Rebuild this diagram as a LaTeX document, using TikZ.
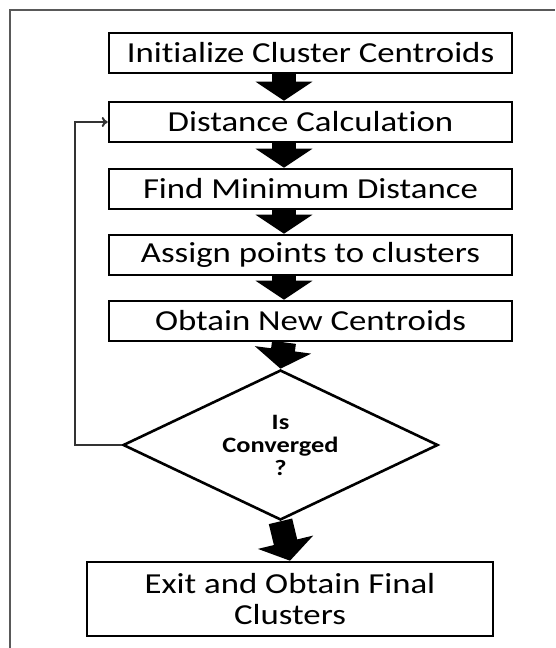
\documentclass[tikz,border=0pt]{standalone}
\usepackage{fontspec}
\setmainfont{Carlito}[FakeStretch=1.2, Ligatures=NoCommon]
\usepackage{xcolor}
\usepackage{tikz}
\usetikzlibrary{arrows.meta,shapes.geometric,positioning,calc}

\begin{document}
\begin{tikzpicture}[x=1pt,y=-1pt,
		stepbox/.style={draw, line width=2.6pt, minimum width=403pt, minimum height=40pt, inner sep=2pt, font=\fontsize{29}{31}\selectfont},
		blockarrow/.style={line width=24pt, -{Triangle[width=56pt,length=19pt]}},
		backarrow/.style={line width=2pt, black!80, -{To[length=6pt,width=10pt]}}]
		\useasboundingbox (0,0) rectangle (555,648);
		\draw[black!65, line width=1.5pt] (10,648) -- (10,10) -- (555,10);

		\node[stepbox] (init) at (310.5,53) {Initialize Cluster Centroids};
		\node[stepbox] (dist) at (310.5,122) {Distance Calculation};
		\node[stepbox] (mind) at (310.5,189) {Find Minimum Distance};
		\node[stepbox] (assign) at (310.5,255) {Assign points to clusters};
		\node[stepbox] (newc) at (310.5,321) {Obtain New Centroids};
		\node[draw, diamond, line width=2.6pt, minimum width=315pt, minimum height=150pt, inner sep=0pt, aspect=2, align=center, font=\bfseries\fontsize{22}{23}\selectfont] (conv) at (280.5,445) {Is\\Converged\\?};
		\node[stepbox, minimum width=406pt, minimum height=74pt, align=center] (exit) at (290,599) {Exit and Obtain Final\\Clusters};

		\coordinate (ax) at (284,0);
		\draw[blockarrow] (init.south -| ax) -- (dist.north -| ax);
		\draw[blockarrow] (dist.south -| ax) -- (mind.north -| ax);
		\draw[blockarrow] (mind.south -| ax) -- (assign.north -| ax);
		\draw[blockarrow] (assign.south -| ax) -- (newc.north -| ax);
		\draw[blockarrow] (newc.south -| ax) -- (conv.north);
		\draw[blockarrow] (conv.south) -- (exit.north);
		\draw[backarrow] (conv.west) -- ++(-47,0) |- (dist.west);
	\end{tikzpicture}
\end{document}
